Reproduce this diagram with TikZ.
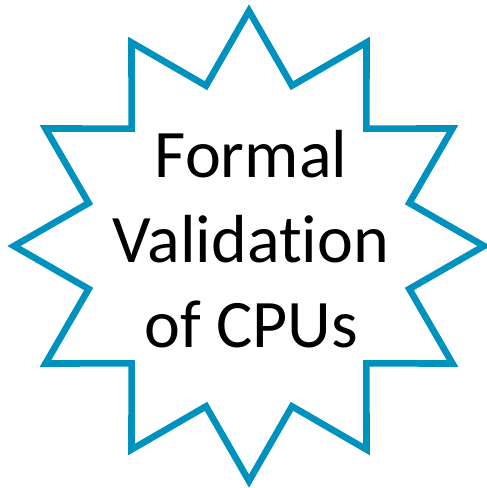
\documentclass[tikz,border=0pt]{standalone}
\usepackage{fontspec}
\setmainfont[Ligatures=NoCommon]{Carlito}
\usepackage{tikz}
\usetikzlibrary{shapes.geometric}
\definecolor{starblue}{RGB}{0,146,191}

\begin{document}
\begin{tikzpicture}[x=1pt, y=1pt]
\useasboundingbox (0,0) rectangle (487,488);

\node[star, star points=12, star point ratio=1.416, minimum size=470pt, inner sep=0pt, draw=starblue, line width=6.6pt] (badge) at (249,242) {};

\node[align=center, font=\fontsize{68}{85}\selectfont, inner sep=0pt] (title) at (251,249) {Formal\\Validation\\of CPUs};
\end{tikzpicture}
\end{document}
